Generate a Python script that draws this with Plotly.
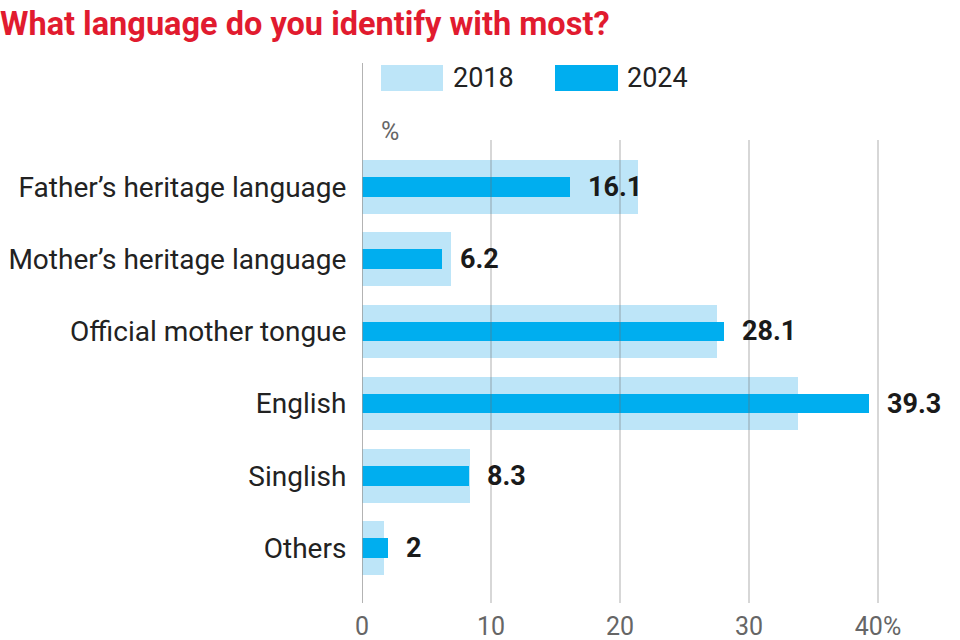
import plotly.graph_objects as go

categories = ["Father’s heritage language", "Mother’s heritage language", "Official mother tongue",
              "English", "Singlish", "Others"]
values_2018 = [21.4, 6.9, 27.5, 33.8, 8.4, 1.7]
values_2024 = [16.1, 6.2, 28.1, 39.3, 8.3, 2]
x_tickvals = [0, 10, 20, 30, 40]
x_ticktext = ["0", "10", "20", "30", "40%"]
series_names = ["2018", "2024"]

C_LIGHT = "#bde5f8"
C_DARK = "#00aeef"

W, H = 960, 640
L, R, T, B = 362, 0, 140, 37
PW, PH = W - L - R, H - T - B
PX_PER_UNIT = 12.9
ypos = list(range(len(categories)))

def px(x):
    return (x - L) / PW

def py(y):
    return (H - B - y) / PH

fig = go.Figure()
fig.add_trace(go.Bar(y=ypos, x=values_2018, orientation="h", width=0.74,
                     marker=dict(color=C_LIGHT, line=dict(width=0)), name=series_names[0],
                     hoverinfo="x"))
fig.add_trace(go.Bar(y=ypos, x=values_2024, orientation="h", width=0.27,
                     marker=dict(color=C_DARK, line=dict(width=0)), name=series_names[1],
                     hoverinfo="x"))

shapes = []
for v in x_tickvals[1:]:
    shapes.append(dict(type="line", xref="x", yref="paper", x0=v, x1=v, y0=0, y1=1,
                       line=dict(color="rgba(110,110,110,0.55)", width=1), layer="above"))
shapes.append(dict(type="line", xref="x", yref="paper", x0=0, x1=0, y0=0, y1=py(63),
                   line=dict(color="#9a9a9a", width=1.5), layer="above"))
# legend swatches
shapes.append(dict(type="rect", xref="paper", yref="paper", x0=px(381), x1=px(443),
                   y0=py(91), y1=py(65), fillcolor=C_LIGHT, line=dict(width=0)))
shapes.append(dict(type="rect", xref="paper", yref="paper", x0=px(555), x1=px(618),
                   y0=py(91), y1=py(65), fillcolor=C_DARK, line=dict(width=0)))

annotations = []
annotations.append(dict(text=series_names[0], xref="paper", yref="paper", x=px(451), y=py(78),
                        xanchor="left", yanchor="middle", showarrow=False,
                        font=dict(family="Roboto", size=27, color="#222")))
annotations.append(dict(text=series_names[1], xref="paper", yref="paper", x=px(625), y=py(78),
                        xanchor="left", yanchor="middle", showarrow=False,
                        font=dict(family="Roboto", size=27, color="#222")))
annotations.append(dict(text="%", xref="paper", yref="paper", x=px(379), y=py(132),
                        xanchor="left", yanchor="middle", showarrow=False,
                        font=dict(family="Roboto", size=25, color="#666")))
for i, v in enumerate(values_2024):
    annotations.append(dict(text=f"{v:g}", x=v, y=i, xref="x", yref="y", xanchor="left",
                            yanchor="middle", xshift=16, showarrow=False,
                            font=dict(family="Roboto", size=27, color="#1a1a1a", weight=700)))

fig.update_layout(
    width=W, height=H,
    margin=dict(l=L, r=R, t=T, b=B, autoexpand=False),
    paper_bgcolor="white", plot_bgcolor="white",
    barmode="overlay", showlegend=False, bargap=0,
    title=dict(text="What language do you identify with most?", xref="container", yref="container",
               x=0.0, xanchor="left", y=1 - 24 / H, yanchor="middle",
               font=dict(family="Roboto", size=32.5, color="#e11b2f", weight=700)),
    xaxis=dict(range=[0, PW / PX_PER_UNIT], tickvals=x_tickvals, ticktext=x_ticktext,
               showgrid=False, zeroline=False, showline=False,
               ticks="outside", ticklen=1, tickcolor="rgba(0,0,0,0)",
               tickfont=dict(family="Roboto", size=25, color="#666"), automargin=False),
    yaxis=dict(range=[5.76, -0.65], tickvals=ypos, ticktext=categories,
               showgrid=False, zeroline=False, showline=False,
               ticks="outside", ticklen=9, tickcolor="rgba(0,0,0,0)",
               tickfont=dict(family="Roboto", size=28, color="#222"), automargin=False),
    shapes=shapes, annotations=annotations,
)

fig.write_html("out.html")
